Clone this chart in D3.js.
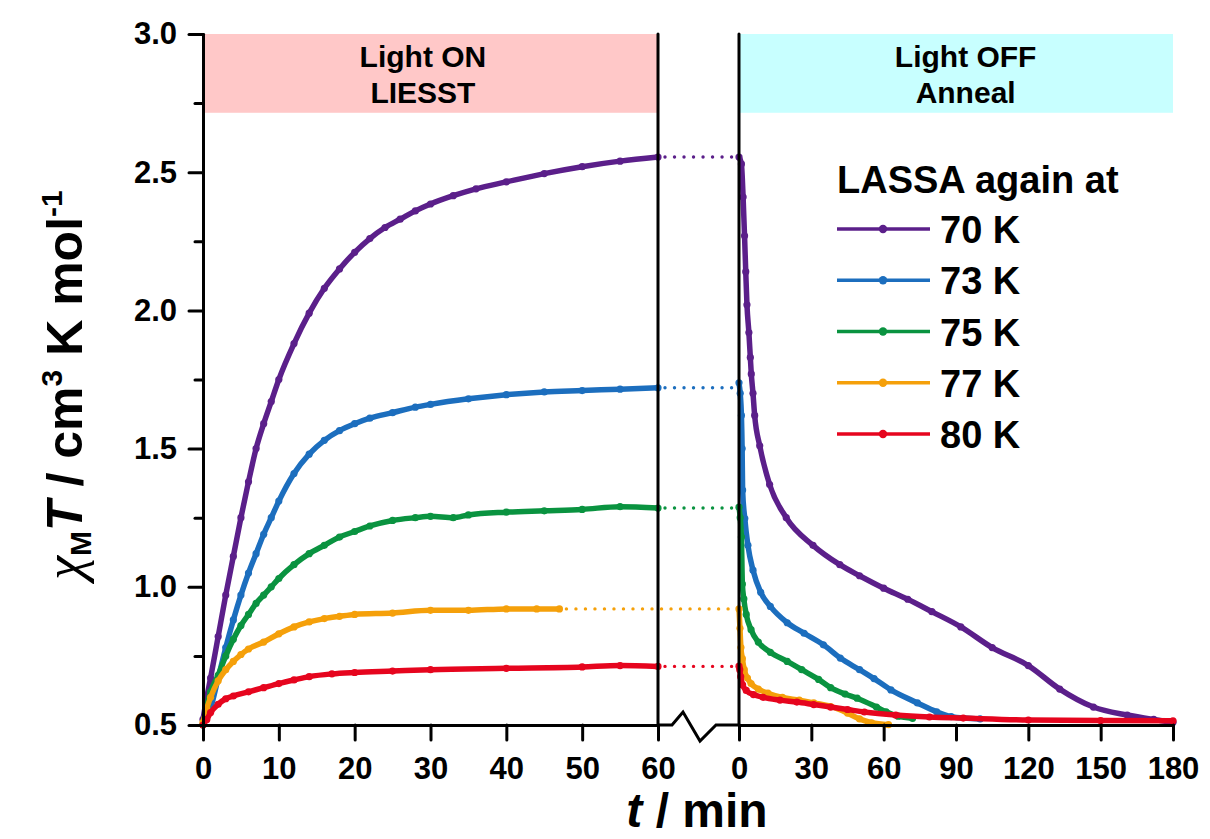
<!DOCTYPE html>
<html>
<head>
<meta charset="utf-8">
<script src="https://cdn.jsdelivr.net/npm/d3@7"></script>
<style>
body { margin: 0; background: #fff; }
svg text { font-family: "Liberation Sans", Arial, sans-serif; font-weight: bold; fill: #000; }
</style>
</head>
<body>
<div id="chart"></div>
<script>
// series names and colours
var temps = ["70 K", "73 K", "75 K", "77 K", "80 K"];
var colors = ["#5b1f8a", "#1c6ebe", "#0a9340", "#f5a00a", "#e6051e"];

// light ON (LIESST) curves: [t / min, chiMT]
var liesst70 = [[0,0.52],[0.5,0.6],[1,0.67],[2,0.82],[3,0.97],[4,1.11],[5,1.25],[6,1.38],[7,1.5],[8,1.59],[9,1.67],[10,1.75],[12,1.88],[14,1.99],[16,2.08],[18,2.15],[20,2.21],[22,2.26],[24,2.3],[26,2.33],[28,2.36],[30,2.385],[33,2.415],[36,2.44],[40,2.465],[45,2.495],[50,2.52],[55,2.54],[60,2.555]];
var liesst73 = [[0,0.5],[1,0.56],[2,0.67],[3,0.78],[4,0.88],[5,0.97],[6,1.05],[7,1.12],[8,1.19],[9,1.25],[10,1.31],[12,1.41],[14,1.48],[16,1.53],[18,1.565],[20,1.59],[22,1.61],[25,1.63],[28,1.65],[30,1.66],[35,1.68],[40,1.695],[45,1.705],[50,1.71],[55,1.715],[60,1.72]];
var liesst75 = [[0,0.5],[0.5,0.57],[1,0.62],[2,0.68],[3,0.75],[4,0.81],[5,0.86],[6,0.9],[7,0.94],[8,0.97],[9,1.0],[10,1.03],[12,1.08],[14,1.12],[16,1.15],[18,1.18],[20,1.2],[22,1.22],[25,1.24],[28,1.25],[30,1.255],[33,1.25],[35,1.26],[40,1.27],[45,1.275],[50,1.28],[55,1.29],[60,1.285]];
var liesst77 = [[0,0.51],[0.5,0.56],[1,0.6],[2,0.66],[3,0.7],[4,0.73],[5,0.755],[6,0.775],[8,0.8],[10,0.83],[12,0.855],[14,0.873],[16,0.885],[18,0.893],[20,0.9],[25,0.905],[30,0.915],[35,0.915],[40,0.92],[44,0.92],[47,0.92]];
var liesst80 = [[0,0.5],[0.5,0.52],[1,0.545],[2,0.575],[3,0.595],[4,0.605],[6,0.62],[8,0.635],[10,0.65],[12,0.663],[14,0.675],[17,0.685],[20,0.69],[25,0.695],[30,0.7],[40,0.705],[50,0.71],[55,0.715],[60,0.712]];

// light OFF (anneal) curves
var anneal70 = [[0,2.555],[1,2.53],[1.7,2.41],[2.3,2.27],[2.8,2.14],[3.3,2.02],[4.1,1.92],[4.7,1.83],[5.1,1.77],[5.8,1.7],[6.5,1.62],[8.6,1.51],[12.7,1.37],[19.6,1.25],[30.7,1.15],[41.8,1.08],[50,1.04],[60,0.995],[70,0.955],[80,0.91],[92,0.855],[105,0.78],[120,0.715],[133,0.63],[147,0.565],[161,0.536],[172,0.52],[180,0.51]];
var anneal73 = [[0,1.738],[0.5,1.7],[1,1.62],[1.3,1.5],[1.5,1.35],[2.4,1.247],[3.7,1.15],[5.8,1.06],[9,0.98],[13,0.929],[20,0.87],[27,0.832],[35,0.79],[42,0.742],[50,0.7],[56,0.668],[63,0.627],[74,0.58],[82,0.548],[88,0.53],[100,0.522]];
var anneal75 = [[0,1.288],[0.5,1.25],[1,1.18],[1.4,1.01],[2,0.956],[3,0.9],[5,0.845],[8,0.8],[13,0.763],[20,0.73],[26,0.7],[33,0.665],[38,0.635],[44,0.612],[49,0.597],[57,0.565],[61,0.548],[66,0.532],[72,0.524]];
var anneal77 = [[0,0.92],[0.4,0.85],[0.8,0.78],[1.4,0.74],[2.2,0.7],[3.5,0.67],[5,0.65],[8,0.63],[12,0.615],[18,0.6],[25,0.59],[31,0.58],[38,0.567],[45,0.543],[50,0.522],[55,0.508],[62,0.501]];
var anneal80 = [[0,0.713],[0.3,0.7],[0.7,0.675],[1.5,0.645],[3,0.625],[6,0.61],[10,0.6],[17,0.59],[24,0.583],[31,0.574],[38,0.565],[45,0.556],[52,0.547],[65,0.536],[79,0.529],[93,0.525],[120,0.518],[150,0.516],[180,0.515]];

// ticks
var yTicks = [0.5, 1.0, 1.5, 2.0, 2.5, 3.0];
var yMinor = [0.75, 1.25, 1.75, 2.25, 2.75];
var xTicksOn = [0, 10, 20, 30, 40, 50, 60];
var xTicksOff = [0, 30, 60, 90, 120, 150, 180];
var bandLow = 2.715;

var liesst = [liesst70, liesst73, liesst75, liesst77, liesst80];
var anneal = [anneal70, anneal73, anneal75, anneal77, anneal80];

var w = 1210, h = 839;
var svg = d3.select("#chart").append("svg").attr("width", w).attr("height", h);

var y = d3.scaleLinear().domain([0.5, 3.0]).range([725, 34]);
var xL = d3.scaleLinear().domain([0, 60]).range([203, 658]);
var xR = d3.scaleLinear().domain([0, 180]).range([739, 1173]);

// shaded bands
svg.append("rect")
	.attr("x", xL(0)).attr("y", y(3.0))
	.attr("width", xL(60) - xL(0)).attr("height", y(bandLow) - y(3.0))
	.attr("fill", "#ffc8c8");
svg.append("rect")
	.attr("x", xR(0)).attr("y", y(3.0))
	.attr("width", xR(180) - xR(0)).attr("height", y(bandLow) - y(3.0))
	.attr("fill", "#c8ffff");

var bandText = [["Light ON", "LIESST"], ["Light OFF", "Anneal"]];
var bandCx = [xL(29), xR(94)];
bandText.forEach(function(lines, i) {
	lines.forEach(function(s, j) {
		svg.append("text")
			.attr("x", bandCx[i]).attr("y", 67 + j * 36)
			.attr("text-anchor", "middle")
			.style("font-size", "30px")
			.text(s);
	});
});

// dotted connectors
liesst.forEach(function(d, i) {
	var last = d[d.length - 1];
	svg.append("line")
		.attr("x1", xL(last[0]) + 7).attr("x2", xR(0) - 3)
		.attr("y1", y(last[1])).attr("y2", y(last[1]))
		.attr("stroke", colors[i])
		.attr("stroke-width", 3.4)
		.attr("stroke-linecap", "round")
		.attr("stroke-dasharray", "0.01 9.5");
});

// curves
var lineL = d3.line().x(function(d) { return xL(d[0]); }).y(function(d) { return y(d[1]); }).curve(d3.curveMonotoneX);
var lineR = d3.line().x(function(d) { return xR(d[0]); }).y(function(d) { return y(d[1]); }).curve(d3.curveMonotoneX);

function drawSeries(data, line, xs, col) {
	svg.append("path")
		.attr("d", line(data))
		.attr("fill", "none")
		.attr("stroke", col)
		.attr("stroke-width", 5.5)
		.attr("stroke-linejoin", "round")
		.attr("stroke-linecap", "round");
	svg.append("g").selectAll("circle")
		.data(data)
		.enter()
		.append("circle")
		.attr("cx", function(d) { return xs(d[0]); })
		.attr("cy", function(d) { return y(d[1]); })
		.attr("r", 3.6)
		.attr("fill", col);
}

for (var i = 0; i < temps.length; i++) {
	drawSeries(liesst[i], lineL, xL, colors[i]);
	drawSeries(anneal[i], lineR, xR, colors[i]);
}

// axes
function styleAxis(g) {
	g.select(".domain").attr("stroke-width", 3).attr("stroke-linecap", "round");
	g.selectAll(".tick line").attr("stroke-width", 3).attr("stroke-linecap", "round");
	g.selectAll(".tick text").style("font-size", "31px");
}

svg.append("g")
	.attr("transform", "translate(" + xL(0) + ",0)")
	.call(d3.axisLeft(y).tickValues(yMinor).tickSize(8).tickSizeOuter(0).tickFormat(""))
	.call(styleAxis);
svg.append("g")
	.attr("transform", "translate(" + xL(0) + ",0)")
	.call(d3.axisLeft(y).tickValues(yTicks).tickSize(14).tickSizeOuter(0).tickPadding(12).tickFormat(d3.format(".1f")))
	.call(styleAxis);

svg.append("g")
	.attr("transform", "translate(0," + y(0.5) + ")")
	.call(d3.axisBottom(xL).tickValues(xTicksOn).tickSize(15).tickSizeOuter(0).tickPadding(17))
	.call(styleAxis);
svg.append("g")
	.attr("transform", "translate(0," + y(0.5) + ")")
	.call(d3.axisBottom(xR).tickValues(xTicksOff).tickSize(15).tickSizeOuter(0).tickPadding(17))
	.call(styleAxis);

// panel edges
[xL(60), xR(0)].forEach(function(xv) {
	svg.append("line")
		.attr("x1", xv).attr("x2", xv)
		.attr("y1", y(3.0)).attr("y2", y(0.5))
		.attr("stroke", "#000").attr("stroke-width", 3).attr("stroke-linecap", "round");
});

// axis break
var bx = xL(60), by = y(0.5);
svg.append("path")
	.attr("d", "M" + bx + "," + by + "H" + (bx + 14) + "L" + (bx + 25) + "," + (by - 13) +
		"L" + (bx + 42) + "," + (by + 16) + "L" + (bx + 58) + "," + by + "H" + xR(0))
	.attr("fill", "none")
	.attr("stroke", "#000").attr("stroke-width", 3).attr("stroke-linejoin", "miter");

// legend
var leg = svg.append("g");
leg.append("text").attr("x", 837).attr("y", 193).style("font-size", "38px").text("LASSA again at");
temps.forEach(function(t, i) {
	var ly = 229 + i * 51.25;
	leg.append("line").attr("x1", 837).attr("x2", 930).attr("y1", ly).attr("y2", ly)
		.attr("stroke", colors[i]).attr("stroke-width", 3.3);
	leg.append("circle").attr("cx", 883).attr("cy", ly).attr("r", 4.2).attr("fill", colors[i]);
	leg.append("text").attr("x", 940).attr("y", ly + 14).style("font-size", "38px").text(t);
});

// axis titles
var yt = svg.append("text")
	.attr("transform", "translate(82,385) rotate(-90)")
	.attr("text-anchor", "middle")
	.style("font-size", "50px");
yt.append("tspan").style("font-family", "'Liberation Serif', serif").style("font-style", "italic").style("font-weight", "normal").style("font-size", "54px").text("\u03c7");
yt.append("tspan").attr("dy", 9).style("font-size", "30px").text("M");
yt.append("tspan").attr("dy", -9).style("font-style", "italic").text("T");
yt.append("tspan").text(" / cm");
yt.append("tspan").attr("dy", -20).style("font-size", "30px").text("3");
yt.append("tspan").attr("dy", 20).text(" K mol");
yt.append("tspan").attr("dy", -20).style("font-size", "30px").text("-1");

var xt = svg.append("text")
	.attr("x", 697).attr("y", 827)
	.attr("text-anchor", "middle")
	.style("font-size", "48px");
xt.append("tspan").style("font-style", "italic").text("t");
xt.append("tspan").text(" / min");
</script>
</body>
</html>
